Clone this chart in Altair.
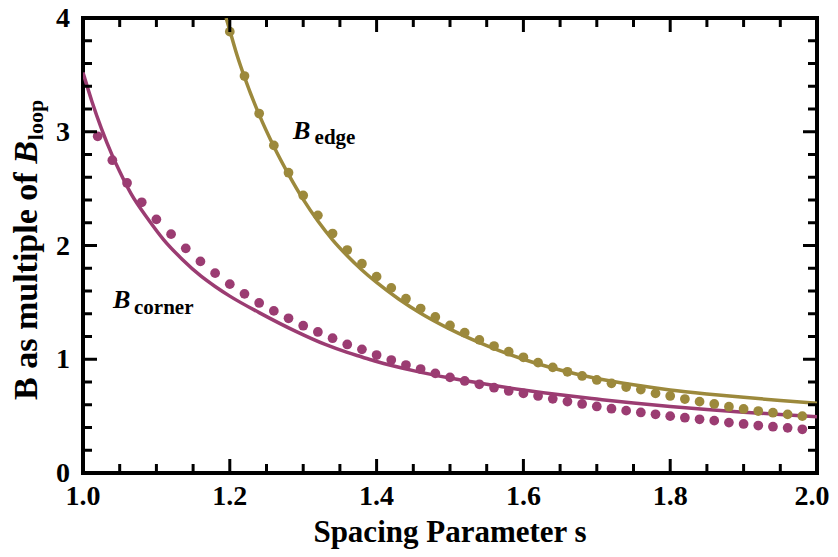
import altair as alt
import pandas as pd

# ---------------- data ----------------
corner_dot_s = [1.02, 1.04, 1.06, 1.08, 1.10, 1.12, 1.14, 1.16, 1.18, 1.20,
                1.22, 1.24, 1.26, 1.28, 1.30, 1.32, 1.34, 1.36, 1.38, 1.40,
                1.42, 1.44, 1.46, 1.48, 1.50, 1.52, 1.54, 1.56, 1.58, 1.60,
                1.62, 1.64, 1.66, 1.68, 1.70, 1.72, 1.74, 1.76, 1.78, 1.80,
                1.82, 1.84, 1.86, 1.88, 1.90, 1.92, 1.94, 1.96, 1.98]
corner_dot_v = [2.96, 2.75, 2.55, 2.38, 2.23, 2.10, 1.975, 1.86, 1.757, 1.66,
                1.575, 1.495, 1.425, 1.36, 1.295, 1.24, 1.185, 1.13, 1.087, 1.037,
                0.993, 0.949, 0.914, 0.876, 0.841, 0.809, 0.780, 0.750, 0.721, 0.700,
                0.677, 0.652, 0.628, 0.607, 0.585, 0.565, 0.548, 0.532, 0.516, 0.500,
                0.486, 0.472, 0.460, 0.443, 0.431, 0.417, 0.407, 0.397, 0.384]

edge_dot_s = [1.20, 1.22, 1.24, 1.26, 1.28, 1.30, 1.32, 1.34, 1.36, 1.38,
              1.40, 1.42, 1.44, 1.46, 1.48, 1.50, 1.52, 1.54, 1.56, 1.58,
              1.60, 1.62, 1.64, 1.66, 1.68, 1.70, 1.72, 1.74, 1.76, 1.78,
              1.80, 1.82, 1.84, 1.86, 1.88, 1.90, 1.92, 1.94, 1.96, 1.98]
edge_dot_v = [3.88, 3.49, 3.16, 2.88, 2.64, 2.44, 2.265, 2.105, 1.96, 1.84,
              1.726, 1.627, 1.532, 1.446, 1.372, 1.297, 1.233, 1.170, 1.116, 1.066,
              1.017, 0.970, 0.929, 0.890, 0.853, 0.818, 0.788, 0.756, 0.733, 0.700,
              0.677, 0.650, 0.627, 0.607, 0.583, 0.563, 0.545, 0.530, 0.515, 0.500]

corner_line_s = [1.00, 1.0125, 1.025, 1.04, 1.05, 1.065, 1.09, 1.11, 1.135, 1.16,
                 1.18, 1.20, 1.24, 1.29, 1.33, 1.36, 1.38, 1.40, 1.45, 1.50,
                 1.55, 1.60, 1.65, 1.70, 1.75, 1.80, 1.85, 1.90, 1.95, 2.00]
corner_line_v = [3.52, 3.26, 3.03, 2.79, 2.65, 2.46, 2.22, 2.05, 1.88, 1.735,
                 1.64, 1.555, 1.41, 1.245, 1.13, 1.06, 1.02, 0.98, 0.90, 0.835,
                 0.78, 0.73, 0.687, 0.65, 0.615, 0.585, 0.558, 0.535, 0.514, 0.495]

edge_line_s = [1.195, 1.20, 1.21, 1.22, 1.24, 1.26, 1.28, 1.30, 1.32, 1.34,
               1.36, 1.38, 1.40, 1.43, 1.46, 1.50, 1.55, 1.60, 1.65, 1.70,
               1.75, 1.80, 1.85, 1.90, 1.95, 2.00]
edge_line_v = [4.00, 3.89, 3.67, 3.48, 3.15, 2.87, 2.625, 2.405, 2.215, 2.05,
               1.91, 1.785, 1.675, 1.53, 1.405, 1.265, 1.12, 1.00, 0.905, 0.83,
               0.775, 0.73, 0.695, 0.665, 0.638, 0.613]

series_names = ["corner", "edge"]
series_colors = ["#9B3C72", "#9C893C"]

x_major = [1.0, 1.2, 1.4, 1.6, 1.8, 2.0]
x_major_labels = ["1.0", "1.2", "1.4", "1.6", "1.8", "2.0"]
x_minor = [1.05, 1.10, 1.15, 1.25, 1.30, 1.35, 1.45, 1.50, 1.55,
           1.65, 1.70, 1.75, 1.85, 1.90, 1.95]
y_major = [0, 1, 2, 3, 4]
y_major_labels = ["0", "1", "2", "3", "4"]
y_minor = [0.2, 0.4, 0.6, 0.8, 1.2, 1.4, 1.6, 1.8, 2.2, 2.4, 2.6, 2.8,
           3.2, 3.4, 3.6, 3.8]

ann_main = ["B", "B"]
ann_main_s = [1.286, 1.041]
ann_main_v = [2.94, 1.448]
ann_sub = ["edge", "corner"]
ann_sub_s = [1.3155, 1.0695]
ann_sub_v = [2.895, 1.398]

x_title = "Spacing Parameter s"
y_title_parts = ["B as multiple of ", "B", "loop"]

# ---------------- layout ----------------
W, H = 734, 455
FONT = "Liberation Serif, Times New Roman, serif"

xs = alt.Scale(domain=[1, 2], nice=False, zero=False)
ys = alt.Scale(domain=[0, 4], nice=False, zero=False)
X = lambda f: alt.X(f, type="quantitative", scale=xs, axis=None)
Y = lambda f: alt.Y(f, type="quantitative", scale=ys, axis=None)
col = alt.Color("series:N", scale=alt.Scale(domain=series_names, range=series_colors), legend=None)

line_df = pd.concat([
    pd.DataFrame({"s": corner_line_s, "v": corner_line_v, "series": "corner"}),
    pd.DataFrame({"s": edge_line_s, "v": edge_line_v, "series": "edge"}),
])
dot_df = pd.concat([
    pd.DataFrame({"s": corner_dot_s, "v": corner_dot_v, "series": "corner"}),
    pd.DataFrame({"s": edge_dot_s, "v": edge_dot_v, "series": "edge"}),
])

lines = alt.Chart(line_df).mark_line(strokeWidth=3.5, interpolate="monotone", clip=True).encode(
    x=X("s"), y=Y("v"), color=col, detail="series:N")
dots = alt.Chart(dot_df).mark_circle(size=95, opacity=1).encode(
    x=X("s"), y=Y("v"), color=col)

xmaj = pd.DataFrame({"s": x_major, "t": x_major_labels})
xmin = pd.DataFrame({"s": x_minor})
ymaj = pd.DataFrame({"v": y_major, "t": y_major_labels})
ymin = pd.DataFrame({"v": y_minor})

MAJ, MIN = 14, 9
tick = dict(color="black", strokeWidth=3)
ticks = [
    alt.Chart(xmaj).mark_rule(**tick).encode(x=X("s"), y=alt.value(H), y2=alt.value(H - MAJ)),
    alt.Chart(xmaj).mark_rule(**tick).encode(x=X("s"), y=alt.value(0), y2=alt.value(MAJ)),
    alt.Chart(xmin).mark_rule(**tick).encode(x=X("s"), y=alt.value(H), y2=alt.value(H - MIN)),
    alt.Chart(xmin).mark_rule(**tick).encode(x=X("s"), y=alt.value(0), y2=alt.value(MIN)),
    alt.Chart(ymaj).mark_rule(**tick).encode(y=Y("v"), x=alt.value(0), x2=alt.value(MAJ)),
    alt.Chart(ymaj).mark_rule(**tick).encode(y=Y("v"), x=alt.value(W), x2=alt.value(W - MAJ)),
    alt.Chart(ymin).mark_rule(**tick).encode(y=Y("v"), x=alt.value(0), x2=alt.value(MIN)),
    alt.Chart(ymin).mark_rule(**tick).encode(y=Y("v"), x=alt.value(W), x2=alt.value(W - MIN)),
]

txt = dict(font=FONT, fontWeight="bold", color="black")
# all x labels but the last are centred on their ticks; the last is nudged so it stays inside the page
xlabels = alt.Chart(xmaj.iloc[:-1]).mark_text(fontSize=28, align="center", baseline="alphabetic", **txt).encode(
    x=X("s"), y=alt.value(H + 32), text="t:N")
xlabel_last = alt.Chart(xmaj.iloc[-1:]).mark_text(fontSize=28, align="center", baseline="alphabetic", dx=-5, **txt).encode(
    x=X("s"), y=alt.value(H + 32), text="t:N")
ylabels = alt.Chart(ymaj).mark_text(fontSize=28, align="right", baseline="alphabetic", dy=9, **txt).encode(
    y=Y("v"), x=alt.value(-13), text="t:N")

ann1 = alt.Chart(pd.DataFrame({"s": ann_main_s, "v": ann_main_v, "t": ann_main})).mark_text(
    fontSize=26, fontStyle="italic", align="left", baseline="alphabetic", **txt).encode(
    x=X("s"), y=Y("v"), text="t:N")
ann2 = alt.Chart(pd.DataFrame({"s": ann_sub_s, "v": ann_sub_v, "t": ann_sub})).mark_text(
    fontSize=21, align="left", baseline="alphabetic", **txt).encode(
    x=X("s"), y=Y("v"), text="t:N")

title_df = pd.DataFrame({"t": [x_title]})
xt = alt.Chart(title_df).mark_text(fontSize=31, align="center", baseline="alphabetic", **txt).encode(
    x=alt.value(W / 2), y=alt.value(524), text="t:N")

# y title composed of three runs, rotated to read bottom-to-top
YT = 34
YS = 22
yt_start = 382
w1 = 6.945 * YT
wB = 0.667 * YT
yt1 = alt.Chart(pd.DataFrame({"t": [y_title_parts[0]]})).mark_text(
    fontSize=YT, angle=270, align="left", baseline="alphabetic", **txt).encode(
    x=alt.value(-46), y=alt.value(yt_start), text="t:N")
yt2 = alt.Chart(pd.DataFrame({"t": [y_title_parts[1]]})).mark_text(
    fontSize=YT, fontStyle="italic", angle=270, align="left", baseline="alphabetic", **txt).encode(
    x=alt.value(-46), y=alt.value(yt_start - w1), text="t:N")
yt3 = alt.Chart(pd.DataFrame({"t": [y_title_parts[2]]})).mark_text(
    fontSize=YS, angle=270, align="left", baseline="alphabetic", **txt).encode(
    x=alt.value(-40), y=alt.value(yt_start - w1 - wB - 1), text="t:N")

chart = alt.layer(lines, dots, *ticks, xlabels, xlabel_last, ylabels, ann1, ann2, xt, yt1, yt2, yt3).properties(
    width=W, height=H,
    autosize=alt.AutoSizeParams(type="none"),
    padding={"left": 75, "top": 10, "right": 13, "bottom": 76},
    background="white",
).configure_view(stroke="black", strokeWidth=4)

chart.save("out.html", embed_options={"renderer": "svg", "actions": False})
